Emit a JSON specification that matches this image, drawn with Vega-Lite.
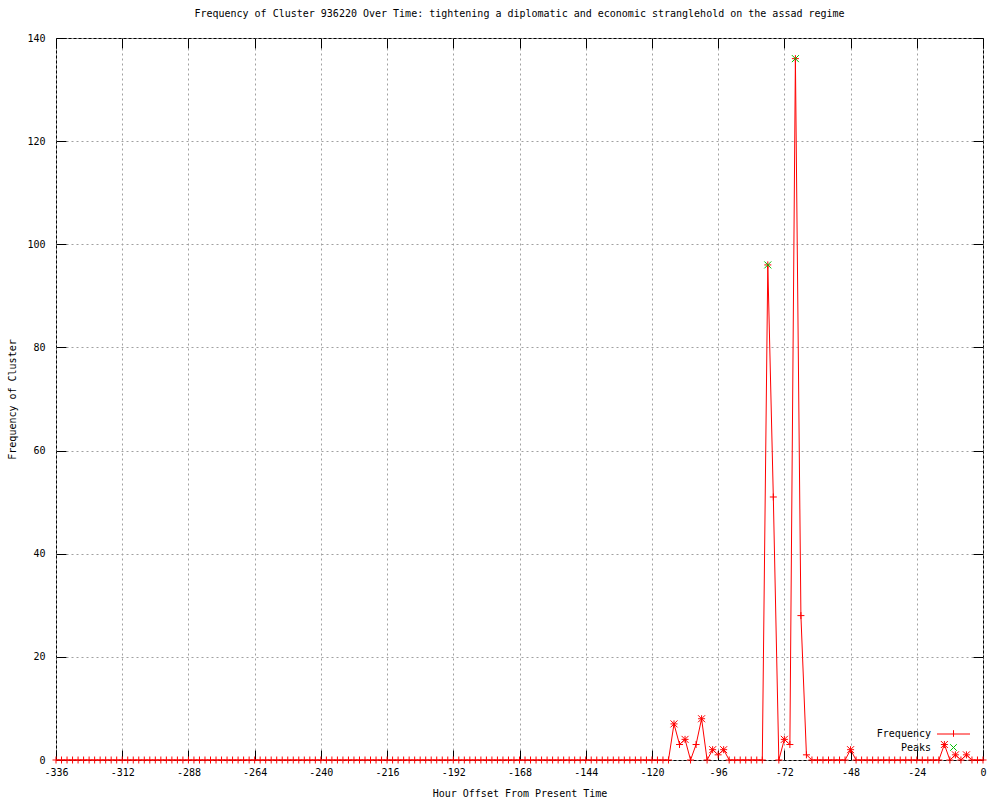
{
 "$schema": "https://vega.github.io/schema/vega-lite/v6.json",
 "width": 927,
 "height": 722,
 "autosize": {"type": "none"},
 "padding": {"left": 56, "top": 38, "right": 17, "bottom": 40},
 "background": "white",
 "title": {"text": "Frequency of Cluster 936220 Over Time: tightening a diplomatic and economic stranglehold on the assad regime", "font": "DejaVu Sans Mono", "fontSize": 10, "fontWeight": "normal", "color": "black", "offset": 14, "anchor": "middle"},
 "config": {
  "view": {"stroke": "black", "strokeWidth": 1},
  "axis": {"domain": false, "grid": true, "gridColor": "#a0a0a0", "gridDash": [2, 3], "gridWidth": 1, "tickColor": "black", "tickSize": -10, "tickWidth": 1, "labelFont": "DejaVu Sans Mono", "labelFontSize": 10, "labelColor": "black", "titleFont": "DejaVu Sans Mono", "titleFontSize": 10, "titleFontWeight": "normal", "titleColor": "black"}
 },
 "datasets": {
  "freq": [
   {"h": -336, "f": 0}, {"h": -334, "f": 0}, {"h": -332, "f": 0}, {"h": -330, "f": 0}, {"h": -328, "f": 0}, {"h": -326, "f": 0}, {"h": -324, "f": 0}, {"h": -322, "f": 0}, {"h": -320, "f": 0}, {"h": -318, "f": 0},
   {"h": -316, "f": 0}, {"h": -314, "f": 0}, {"h": -312, "f": 0}, {"h": -310, "f": 0}, {"h": -308, "f": 0}, {"h": -306, "f": 0}, {"h": -304, "f": 0}, {"h": -302, "f": 0}, {"h": -300, "f": 0}, {"h": -298, "f": 0},
   {"h": -296, "f": 0}, {"h": -294, "f": 0}, {"h": -292, "f": 0}, {"h": -290, "f": 0}, {"h": -288, "f": 0}, {"h": -286, "f": 0}, {"h": -284, "f": 0}, {"h": -282, "f": 0}, {"h": -280, "f": 0}, {"h": -278, "f": 0},
   {"h": -276, "f": 0}, {"h": -274, "f": 0}, {"h": -272, "f": 0}, {"h": -270, "f": 0}, {"h": -268, "f": 0}, {"h": -266, "f": 0}, {"h": -264, "f": 0}, {"h": -262, "f": 0}, {"h": -260, "f": 0}, {"h": -258, "f": 0},
   {"h": -256, "f": 0}, {"h": -254, "f": 0}, {"h": -252, "f": 0}, {"h": -250, "f": 0}, {"h": -248, "f": 0}, {"h": -246, "f": 0}, {"h": -244, "f": 0}, {"h": -242, "f": 0}, {"h": -240, "f": 0}, {"h": -238, "f": 0},
   {"h": -236, "f": 0}, {"h": -234, "f": 0}, {"h": -232, "f": 0}, {"h": -230, "f": 0}, {"h": -228, "f": 0}, {"h": -226, "f": 0}, {"h": -224, "f": 0}, {"h": -222, "f": 0}, {"h": -220, "f": 0}, {"h": -218, "f": 0},
   {"h": -216, "f": 0}, {"h": -214, "f": 0}, {"h": -212, "f": 0}, {"h": -210, "f": 0}, {"h": -208, "f": 0}, {"h": -206, "f": 0}, {"h": -204, "f": 0}, {"h": -202, "f": 0}, {"h": -200, "f": 0}, {"h": -198, "f": 0},
   {"h": -196, "f": 0}, {"h": -194, "f": 0}, {"h": -192, "f": 0}, {"h": -190, "f": 0}, {"h": -188, "f": 0}, {"h": -186, "f": 0}, {"h": -184, "f": 0}, {"h": -182, "f": 0}, {"h": -180, "f": 0}, {"h": -178, "f": 0},
   {"h": -176, "f": 0}, {"h": -174, "f": 0}, {"h": -172, "f": 0}, {"h": -170, "f": 0}, {"h": -168, "f": 0}, {"h": -166, "f": 0}, {"h": -164, "f": 0}, {"h": -162, "f": 0}, {"h": -160, "f": 0}, {"h": -158, "f": 0},
   {"h": -156, "f": 0}, {"h": -154, "f": 0}, {"h": -152, "f": 0}, {"h": -150, "f": 0}, {"h": -148, "f": 0}, {"h": -146, "f": 0}, {"h": -144, "f": 0}, {"h": -142, "f": 0}, {"h": -140, "f": 0}, {"h": -138, "f": 0},
   {"h": -136, "f": 0}, {"h": -134, "f": 0}, {"h": -132, "f": 0}, {"h": -130, "f": 0}, {"h": -128, "f": 0}, {"h": -126, "f": 0}, {"h": -124, "f": 0}, {"h": -122, "f": 0}, {"h": -120, "f": 0}, {"h": -118, "f": 0},
   {"h": -116, "f": 0}, {"h": -114, "f": 0}, {"h": -112, "f": 7}, {"h": -110, "f": 3}, {"h": -108, "f": 4}, {"h": -106, "f": 0}, {"h": -104, "f": 3}, {"h": -102, "f": 8}, {"h": -100, "f": 0}, {"h": -98, "f": 2},
   {"h": -96, "f": 1}, {"h": -94, "f": 2}, {"h": -92, "f": 0}, {"h": -90, "f": 0}, {"h": -88, "f": 0}, {"h": -86, "f": 0}, {"h": -84, "f": 0}, {"h": -82, "f": 0}, {"h": -80, "f": 0}, {"h": -78, "f": 96},
   {"h": -76, "f": 51}, {"h": -74, "f": 0}, {"h": -72, "f": 4}, {"h": -70, "f": 3}, {"h": -68, "f": 136}, {"h": -66, "f": 28}, {"h": -64, "f": 1}, {"h": -62, "f": 0}, {"h": -60, "f": 0}, {"h": -58, "f": 0},
   {"h": -56, "f": 0}, {"h": -54, "f": 0}, {"h": -52, "f": 0}, {"h": -50, "f": 0}, {"h": -48, "f": 2}, {"h": -46, "f": 0}, {"h": -44, "f": 0}, {"h": -42, "f": 0}, {"h": -40, "f": 0}, {"h": -38, "f": 0},
   {"h": -36, "f": 0}, {"h": -34, "f": 0}, {"h": -32, "f": 0}, {"h": -30, "f": 0}, {"h": -28, "f": 0}, {"h": -26, "f": 0}, {"h": -24, "f": 0}, {"h": -22, "f": 0}, {"h": -20, "f": 0}, {"h": -18, "f": 0},
   {"h": -16, "f": 0}, {"h": -14, "f": 3}, {"h": -12, "f": 0}, {"h": -10, "f": 1}, {"h": -8, "f": 0}, {"h": -6, "f": 1}, {"h": -4, "f": 0}, {"h": -2, "f": 0}, {"h": 0, "f": 0}
  ],
  "peaks": [
   {"h": -112, "f": 7}, {"h": -108, "f": 4}, {"h": -102, "f": 8}, {"h": -98, "f": 2}, {"h": -94, "f": 2}, {"h": -78, "f": 96},
   {"h": -72, "f": 4}, {"h": -68, "f": 136}, {"h": -48, "f": 2}, {"h": -14, "f": 3}, {"h": -10, "f": 1}, {"h": -6, "f": 1}
  ]
 },
 "resolve": {"axis": {"x": "independent", "y": "independent"}},
 "layer": [
  {
   "data": {"name": "freq"},
   "mark": {"type": "line", "strokeWidth": 1, "interpolate": "linear"},
   "encoding": {
    "x": {"field": "h", "type": "quantitative", "scale": {"domain": [-336, 0], "nice": false, "zero": false},
          "axis": {"values": [-336, -312, -288, -264, -240, -216, -192, -168, -144, -120, -96, -72, -48, -24, 0], "labelExpr": "datum.value + ''", "labelPadding": 17, "title": "Hour Offset From Present Time", "titlePadding": 11, "labelFlush": false, "labelOverlap": false}},
    "y": {"field": "f", "type": "quantitative", "scale": {"domain": [0, 140], "nice": false},
          "axis": {"values": [0, 20, 40, 60, 80, 100, 120, 140], "labelPadding": 21, "title": "Frequency of Cluster", "titlePadding": 9, "labelFlush": false}},
    "color": {"datum": "Frequency", "scale": {"domain": ["Frequency", "Peaks"], "range": ["#ff0000", "#00c000"]},
              "legend": {"orient": "none", "legendX": 892, "legendY": 690, "title": null, "labelFont": "DejaVu Sans Mono", "labelFontSize": 10, "labelColor": "black", "labelAlign": "right", "labelOffset": -28, "symbolSize": 100, "symbolStrokeWidth": 1, "rowPadding": 3, "padding": 0,
                         "encode": {"symbols": {"update": {"shape": {"signal": "datum.value === 'Frequency' ? 'M-3.3,0.1H3.3M0,-0.66V0.66' : 'M-0.66,-0.66L0.66,0.66M-0.66,0.66L0.66,-0.66'"}, "stroke": {"signal": "datum.value === 'Frequency' ? '#ff0000' : '#00c000'"}, "fill": {"value": "transparent"}, "strokeWidth": {"value": 1}, "strokeDash": {"value": []}, "opacity": {"value": 1}, "strokeOpacity": {"value": 1}}}}}}
   }
  },
  {
   "data": {"name": "freq"},
   "mark": {"type": "point", "shape": "M-1,0H1M0,-1V1", "size": 49, "filled": false, "strokeWidth": 1, "stroke": "#ff0000", "opacity": 1},
   "encoding": {
    "x": {"field": "h", "type": "quantitative", "axis": null},
    "y": {"field": "f", "type": "quantitative", "axis": null}
   }
  },
  {
   "data": {"name": "peaks"},
   "mark": {"type": "point", "shape": "M-1,-1L1,1M-1,1L1,-1", "size": 49, "filled": false, "strokeWidth": 1, "opacity": 1},
   "encoding": {
    "x": {"field": "h", "type": "quantitative", "axis": {"orient": "top", "values": [-336, -312, -288, -264, -240, -216, -192, -168, -144, -120, -96, -72, -48, -24, 0], "labels": false, "grid": false, "title": null}},
    "y": {"field": "f", "type": "quantitative", "axis": {"orient": "right", "values": [0, 20, 40, 60, 80, 100, 120, 140], "labels": false, "grid": false, "title": null}},
    "stroke": {"condition": {"test": "datum.f > 50", "value": "#00c000"}, "value": "#ff0000"}
   }
  }
 ]
}
